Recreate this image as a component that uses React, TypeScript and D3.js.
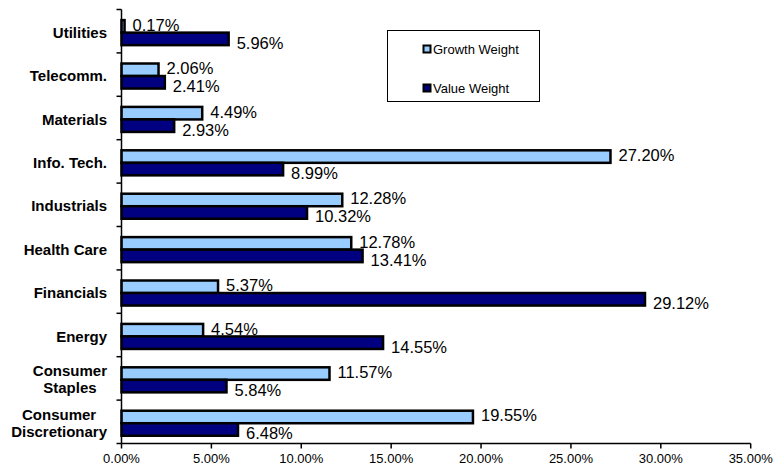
import React, { useEffect, useRef } from "react";
import * as d3 from "d3";

const categories = [
  "Utilities",
  "Telecomm.",
  "Materials",
  "Info. Tech.",
  "Industrials",
  "Health Care",
  "Financials",
  "Energy",
  "Consumer\nStaples",
  "Consumer\nDiscretionary",
];
const growthWeight = [0.17, 2.06, 4.49, 27.2, 12.28, 12.78, 5.37, 4.54, 11.57, 19.55];
const valueWeight = [5.96, 2.41, 2.93, 8.99, 10.32, 13.41, 29.12, 14.55, 5.84, 6.48];
const xTicks = [0, 5, 10, 15, 20, 25, 30, 35];
const seriesNames = ["Growth Weight", "Value Weight"];
const seriesColors = ["#99CCFF", "#000080"];

const W = 774;
const H = 468;
const FONT = "Arial, 'Liberation Sans', Helvetica, sans-serif";

export default function App() {
  const ref = useRef<SVGSVGElement | null>(null);

  useEffect(() => {
    const svg = d3.select(ref.current);
    svg.selectAll("*").remove();

    const left = 121.5;
    const right = 750.7;
    const top = 9.5;
    const bottom = 443.5;

    const x = d3.scaleLinear().domain([0, 35]).range([left, right]);
    const yStep = d3.scaleBand<string>().domain(categories).range([top, bottom]).padding(0);
    const y = d3
      .scaleBand<string>()
      .domain(categories)
      .range([top, bottom])
      .paddingInner(0.423)
      .paddingOuter(0.2115)
      .align(0.578);
    const sub = d3.scaleBand<string>().domain(seriesNames).range([0, y.bandwidth()]);

    const g = svg.append("g");

    const series = [growthWeight, valueWeight];
    series.forEach((vals, si) => {
      g.selectAll(`.bar${si}`)
        .data(vals)
        .enter()
        .append("rect")
        .attr("x", x(0))
        .attr("y", (_, i) => (y(categories[i]) as number) + (sub(seriesNames[si]) as number))
        .attr("width", (d) => x(d) - x(0))
        .attr("height", sub.bandwidth())
        .attr("fill", seriesColors[si])
        .attr("stroke", "#000")
        .attr("stroke-width", 2.5);
    });

    series.forEach((vals, si) => {
      g.selectAll(`.lab${si}`)
        .data(vals)
        .enter()
        .append("text")
        .attr("x", (d) => x(d) + 8)
        .attr(
          "y",
          (_, i) =>
            (y(categories[i]) as number) +
            (sub(seriesNames[si]) as number) +
            sub.bandwidth() / 2 +
            (si === 0 ? -1.5 : 4)
        )
        .attr("dominant-baseline", "central")
        .attr("font-family", FONT)
        .attr("font-size", 16.5)
        .attr("fill", "#000")
        .text((d) => d.toFixed(2) + "%");
    });

    // y axis
    g.append("line")
      .attr("x1", left)
      .attr("x2", left)
      .attr("y1", top)
      .attr("y2", bottom)
      .attr("stroke", "#000")
      .attr("stroke-width", 1.5);
    const yTickPos = categories.map((c) => yStep(c) as number).concat([bottom]);
    g.selectAll(".ytick")
      .data(yTickPos)
      .enter()
      .append("line")
      .attr("x1", left - 5)
      .attr("x2", left)
      .attr("y1", (d) => d)
      .attr("y2", (d) => d)
      .attr("stroke", "#000")
      .attr("stroke-width", 1.5);

    // category labels
    categories.forEach((c) => {
      const lines = c.split("\n");
      const cy = (yStep(c) as number) + yStep.bandwidth() / 2 + 1;
      const lh = 17;
      const t = g
        .append("text")
        .attr("font-family", FONT)
        .attr("font-size", 15)
        .attr("font-weight", "bold")
        .attr("fill", "#000");
      const spans = lines.map((ln, li) =>
        t
          .append("tspan")
          .attr("y", cy + (li - (lines.length - 1) / 2) * lh)
          .attr("dominant-baseline", "central")
          .text(ln)
      );
      const widths = spans.map((s) => (s.node() as SVGTSpanElement).getComputedTextLength());
      const maxW = Math.max(...widths);
      const cx = 107 - maxW / 2;
      spans.forEach((s) => s.attr("x", cx).attr("text-anchor", "middle"));
    });

    // x axis
    g.append("line")
      .attr("x1", left)
      .attr("x2", right)
      .attr("y1", bottom)
      .attr("y2", bottom)
      .attr("stroke", "#000")
      .attr("stroke-width", 1.5);
    g.selectAll(".xtick")
      .data(xTicks)
      .enter()
      .append("line")
      .attr("x1", (d) => x(d))
      .attr("x2", (d) => x(d))
      .attr("y1", bottom)
      .attr("y2", bottom + 5)
      .attr("stroke", "#000")
      .attr("stroke-width", 1.5);
    g.selectAll(".xlab")
      .data(xTicks)
      .enter()
      .append("text")
      .attr("x", (d) => x(d))
      .attr("y", bottom + 14.5)
      .attr("text-anchor", "middle")
      .attr("dominant-baseline", "central")
      .attr("font-family", FONT)
      .attr("font-size", 13)
      .attr("fill", "#000")
      .text((d) => d.toFixed(2) + "%");

    // legend
    const lg = g.append("g");
    lg.append("rect")
      .attr("x", 387.5)
      .attr("y", 30.5)
      .attr("width", 152)
      .attr("height", 71)
      .attr("fill", "#fff")
      .attr("stroke", "#000")
      .attr("stroke-width", 1);
    const legY = [49, 88];
    seriesNames.forEach((n, i) => {
      lg.append("rect")
        .attr("x", 423.5)
        .attr("y", legY[i] - 3.5)
        .attr("width", 7)
        .attr("height", 7)
        .attr("fill", seriesColors[i])
        .attr("stroke", "#000")
        .attr("stroke-width", 2);
      lg.append("text")
        .attr("x", 433)
        .attr("y", legY[i])
        .attr("dominant-baseline", "central")
        .attr("font-family", FONT)
        .attr("font-size", 13)
        .attr("fill", "#000")
        .text(n);
    });
  }, []);

  return (
    <svg
      ref={ref}
      width={W}
      height={H}
      style={{ position: "absolute", left: 0, top: 0, background: "#fff" }}
    />
  );
}
